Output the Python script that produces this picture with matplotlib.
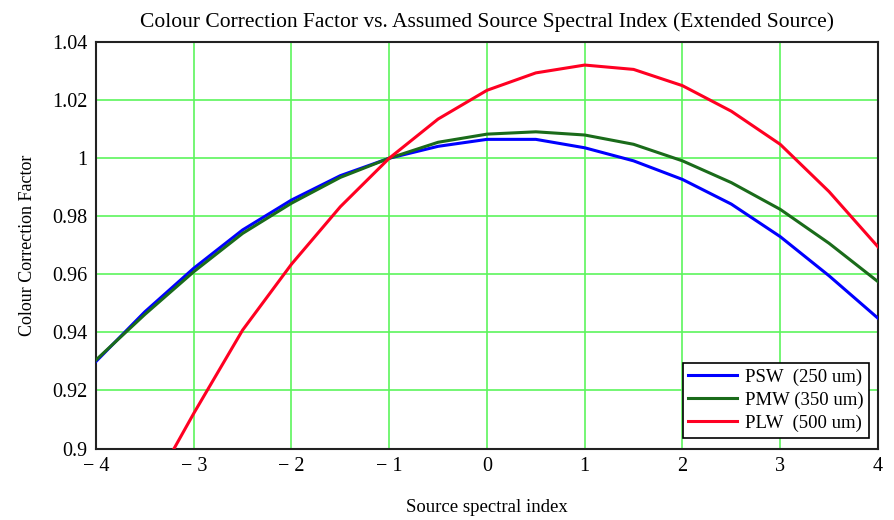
import numpy as np
import matplotlib
matplotlib.use('Agg')
import matplotlib.pyplot as plt

# --- data ---
alpha = [-4, -3.5, -3, -2.5, -2, -1.5, -1, -0.5, 0, 0.5, 1, 1.5, 2, 2.5, 3, 3.5, 4]
psw = [0.930, 0.9471, 0.9621, 0.9753, 0.9856, 0.9940, 1.0, 1.0041, 1.0065, 1.0065, 1.0036,
       0.9991, 0.9927, 0.9842, 0.9730, 0.9595, 0.9449]
pmw = [0.9305, 0.9462, 0.9609, 0.9741, 0.9845, 0.9934, 1.0, 1.0055, 1.0083, 1.0091, 1.0080,
       1.0048, 0.9991, 0.9916, 0.9824, 0.9707, 0.9575]
plw = [0.850, 0.882, 0.9121, 0.9408, 0.9635, 0.9833, 1.0, 1.0135, 1.0234, 1.0294, 1.0321,
       1.0306, 1.0250, 1.0162, 1.0048, 0.9885, 0.9695]
labels = ['PSW  (250 um)', 'PMW (350 um)', 'PLW  (500 um)']
colors = ['#0000ff', '#1a6b1a', '#ff0022']

xticks = [-4, -3, -2, -1, 0, 1, 2, 3, 4]
yticks = [0.9, 0.92, 0.94, 0.96, 0.98, 1.0, 1.02, 1.04]
ytick_labels = ['0.9', '0.92', '0.94', '0.96', '0.98', '1', '1.02', '1.04']

plt.rcParams['font.family'] = ['Liberation Serif', 'DejaVu Serif']

fig = plt.figure(figsize=(8.94, 5.20), dpi=100)
ax = fig.add_axes([0.1074, 0.1375, 0.8746, 0.7815])

for y, lab, c in zip([psw, pmw, plw], labels, colors):
    ax.plot(alpha, y, color=c, linewidth=2.2, label=lab, zorder=3)

ax.set_xlim(-4, 4)
ax.set_ylim(0.9, 1.04)
ax.set_xticks(xticks)
ax.set_xticklabels([('\u2212 %d' % -v) if v < 0 else str(v) for v in xticks])
ax.set_yticks(yticks)
ax.set_yticklabels(ytick_labels)
ax.tick_params(length=0, labelsize=14.5, pad=6)
ax.grid(True, color='#5cf55c', linewidth=1.2, zorder=1)
for s in ax.spines.values():
    s.set_linewidth(1.5)
    s.set_color('#222222')

ax.set_title('Colour Correction Factor vs. Assumed Source Spectral Index (Extended Source)',
             fontsize=15.5, pad=11)
ax.set_xlabel('Source spectral index', fontsize=13.5, labelpad=17)
ax.set_ylabel('Colour Correction Factor', fontsize=13, labelpad=12)

leg = ax.legend(loc='lower right', bbox_to_anchor=(0.9885, 0.027), fontsize=13.5,
                fancybox=False, framealpha=1, edgecolor='black', borderpad=0.3,
                handlelength=2.6, handletextpad=0.4, labelspacing=0.3, borderaxespad=0)
leg.get_frame().set_linewidth(1.2)

fig.savefig('out.png', dpi=100)
